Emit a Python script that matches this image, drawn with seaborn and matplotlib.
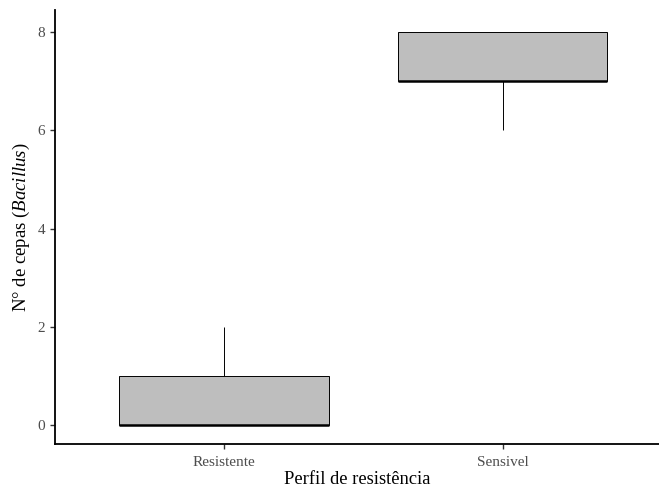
import matplotlib
matplotlib.use("Agg")
from matplotlib import pyplot as plt
import pandas as pd
import seaborn as sns

# === Data ===
perfis = ["Resistente", "Sensivel"]
resistente = [0, 0, 0, 1, 2]
sensivel = [6, 7, 7, 8, 8]
yticks = [0, 2, 4, 6, 8]

df = pd.DataFrame({
    "perfil": [perfis[0]] * len(resistente) + [perfis[1]] * len(sensivel),
    "cepas": resistente + sensivel,
})

# === Style ===
sns.set_style("ticks")
plt.rcParams["font.family"] = ["Liberation Serif", "DejaVu Serif"]
plt.rcParams["mathtext.fontset"] = "custom"
plt.rcParams["mathtext.rm"] = "Liberation Serif"
plt.rcParams["mathtext.it"] = "Liberation Serif:italic"

fig = plt.figure(figsize=(6.59, 4.88), dpi=100)
ax = fig.add_axes([55 / 659, 44 / 488, 604 / 659, 434 / 488])

sns.boxplot(
    data=df, x="perfil", y="cepas", order=perfis, ax=ax,
    color="#BEBEBE", saturation=1, width=0.75,
    linecolor="black", linewidth=0.7, showcaps=False,
    medianprops={"linewidth": 1.8},
)

ax.set_xlim(-0.606, 1.56)
ax.set_ylim(-0.387, 8.45)
ax.set_yticks(yticks)
ax.set_yticklabels([str(t) for t in yticks])

ax.set_xlabel("Perfil de resistência", fontsize=13.3, color="black", labelpad=1)
ax.set_ylabel("N° de cepas " + r"$\mathit{(Bacillus)}$", fontsize=13.5, color="black")

ax.tick_params(axis="both", labelsize=11, labelcolor="#4D4D4D", color="#333333",
               length=3.5, width=1)
ax.tick_params(axis="x", pad=5.5)
for side in ["top", "right"]:
    ax.spines[side].set_visible(False)
for side in ["left", "bottom"]:
    ax.spines[side].set_linewidth(1.3)
    ax.spines[side].set_color("black")

fig.savefig("out.png", dpi=100)
